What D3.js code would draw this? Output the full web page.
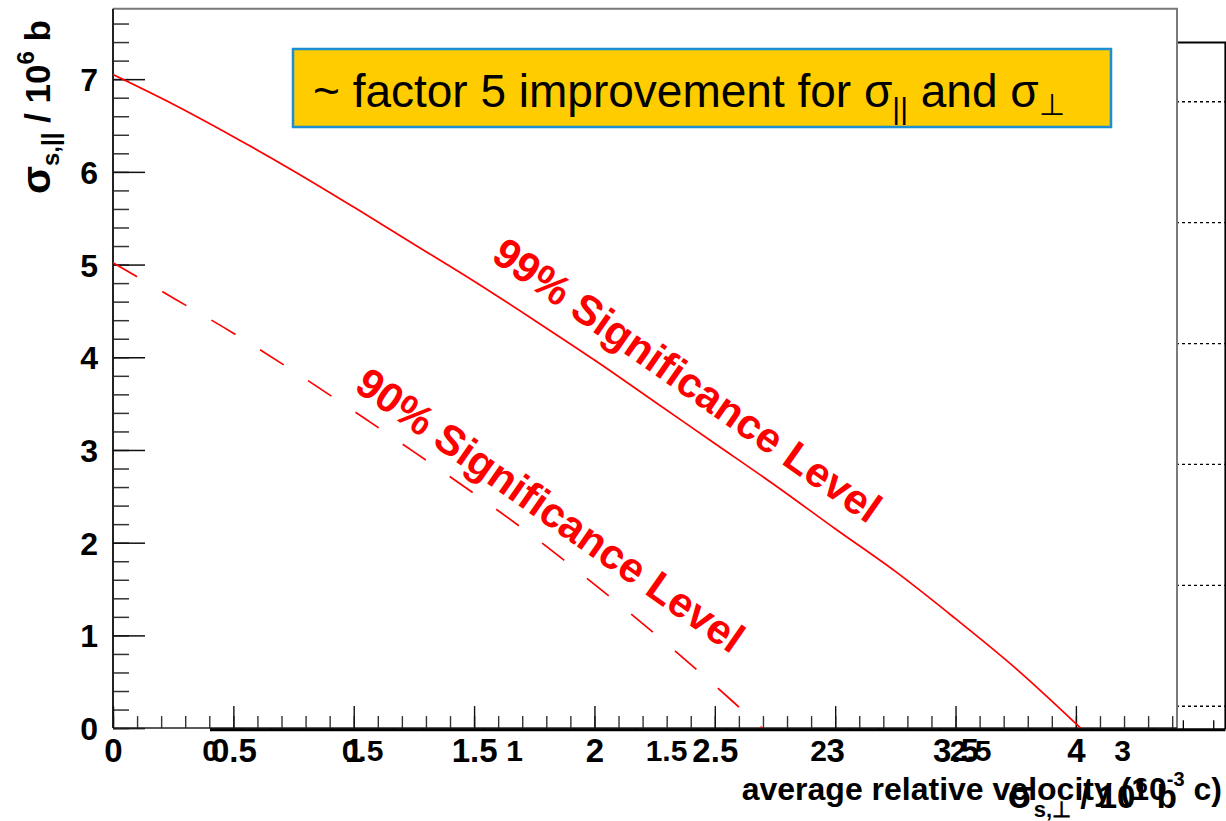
<!DOCTYPE html>
<html><head><meta charset="utf-8">
<script src="https://cdn.jsdelivr.net/npm/d3@7"></script>
<style>
body{margin:0;background:#fff}
text{font-family:"Liberation Sans",Arial,Helvetica,sans-serif}
</style>
</head><body>
<svg id="chart" width="1226" height="821"></svg>
<script>
// Exclusion limits: sigma_perp (10^6 b) vs sigma_parallel (10^6 b)
const perp99 = [0, 0.25, 0.5, 0.75, 1.0, 1.25, 1.5, 1.75, 2.0, 2.25, 2.5, 2.75, 3.0, 3.25, 3.5, 3.75, 4.02];
const par99  = [7.05, 6.73, 6.38, 6.01, 5.62, 5.22, 4.82, 4.40, 3.97, 3.52, 3.07, 2.62, 2.15, 1.69, 1.18, 0.645, 0.0];
const perp90 = [0, 0.25, 0.5, 0.75, 1.0, 1.25, 1.5, 1.75, 2.0, 2.25, 2.5, 2.697];
const par90  = [5.02, 4.64, 4.26, 3.85, 3.42, 2.98, 2.53, 2.06, 1.55, 1.02, 0.46, 0.0];

// Axis ticks
const parTicks = [0, 1, 2, 3, 4, 5, 6, 7];
const perpTicks = [0, 0.5, 1, 1.5, 2, 2.5, 3, 3.5, 4];
const velocityTicks = [0, 0.5, 1, 1.5, 2, 2.5, 3];
const velocityGrid = [1, 2, 3, 4, 5, 6];

const svg = d3.select("#chart");
const fmt = d3.format("~g");

// ---- geometry of the two frames
const A = {x0: 113, x1: 1177, y0: 728.1, y1: 8.7};
const B = {x0: 210, x1: 1225.4, y0: 729.2, y1: 42.5};

const xA = d3.scaleLinear().domain([0, 4.42]).range([A.x0, A.x1]);
const yA = d3.scaleLinear().domain([0, 7.76]).range([A.y0, A.y1]);
const xB = d3.scaleLinear().domain([0, 3.34]).range([B.x0, B.x1]);
const yB = d3.scaleLinear().domain([0.81, 6.49]).range([B.y0, B.y1]);

const steps = (a, b, s) => d3.range(Math.round(a / s), Math.round(b / s) + 1).map(i => +(i * s).toFixed(4));

// ---- velocity frame (behind)
const gB = svg.append("g");
gB.selectAll("line.grid").data(velocityGrid).join("line")
  .attr("x1", B.x0).attr("x2", B.x1)
  .attr("y1", d => yB(d)).attr("y2", d => yB(d))
  .attr("stroke", "#000").attr("stroke-width", 1.3).attr("stroke-dasharray", "3,3");
gB.append("path")
  .attr("d", `M${B.x0},${B.y1}H${B.x1}V${B.y0}`)
  .attr("fill", "none").attr("stroke", "#000").attr("stroke-width", 2);

const minorB = d3.axisBottom(xB).tickValues(steps(0, 3.3, 0.1)).tickSize(-9).tickFormat("").tickSizeOuter(0);
gB.append("g").attr("transform", `translate(0,${B.y0})`).call(minorB)
  .call(g => g.select(".domain").remove())
  .call(g => g.selectAll("line").attr("stroke", "#000").attr("stroke-width", 1.3));

// ---- main frame
const gA = svg.append("g");
gA.append("rect").attr("x", A.x0).attr("y", A.y1).attr("width", A.x1 - A.x0).attr("height", A.y0 - A.y1)
  .attr("fill", "#fff");
gA.append("path").attr("d", `M${A.x0},${A.y1}H${A.x1}V${A.y0}`)
  .attr("fill", "none").attr("stroke", "#7a7a7a").attr("stroke-width", 2);

// y axis (sigma parallel)
const yMinor = d3.axisLeft(yA).tickValues(steps(0, 7.6, 0.2)).tickSize(-16).tickFormat("").tickSizeOuter(0);
gA.append("g").attr("transform", `translate(${A.x0},0)`).call(yMinor)
  .call(g => g.select(".domain").remove())
  .call(g => g.selectAll("line").attr("stroke", "#333").attr("stroke-width", 1.5));
const yMajor = d3.axisLeft(yA).tickValues(parTicks).tickFormat(fmt).tickSize(-32).tickPadding(15).tickSizeOuter(0);
gA.append("g").attr("transform", `translate(${A.x0},0)`).call(yMajor)
  .call(g => g.select(".domain").attr("d", `M0,${A.y0}V${A.y1}`).attr("stroke", "#222").attr("stroke-width", 2))
  .call(g => g.selectAll("line").attr("stroke", "#111").attr("stroke-width", 1.5))
  .call(g => g.selectAll("text").attr("font-size", 32).attr("font-weight", "bold").attr("fill", "#000")
    .attr("font-family", "Liberation Sans, Arial, sans-serif").attr("dy", "0.36em"));

// x axis (sigma perpendicular)
const xMinor = d3.axisBottom(xA).tickValues(steps(0, 4.4, 0.1)).tickSize(-12).tickFormat("").tickSizeOuter(0);
gA.append("g").attr("transform", `translate(0,${A.y0})`).call(xMinor)
  .call(g => g.select(".domain").remove())
  .call(g => g.selectAll("line").attr("stroke", "#333").attr("stroke-width", 1.4));
const xMajor = d3.axisBottom(xA).tickValues(perpTicks).tickFormat(fmt).tickSize(-22).tickPadding(10).tickSizeOuter(0);
gA.append("g").attr("transform", `translate(0,${A.y0})`).call(xMajor)
  .call(g => g.select(".domain").attr("d", `M${A.x0},0H${A.x1}`).attr("stroke", "#222").attr("stroke-width", 1.5))
  .call(g => g.selectAll("line").attr("stroke", "#111").attr("stroke-width", 1.4))
  .call(g => g.selectAll("text").attr("font-size", 33).attr("font-weight", "bold").attr("fill", "#000")
    .attr("font-family", "Liberation Sans, Arial, sans-serif"));

// limit curves
svg.append("clipPath").attr("id", "clipA").append("rect")
  .attr("x", A.x0).attr("y", A.y1).attr("width", A.x1 - A.x0).attr("height", A.y0 - A.y1 + 1);
const line = d3.line().curve(d3.curveCatmullRom).x(d => xA(d[0])).y(d => yA(d[1]));
const curves = svg.append("g").attr("clip-path", "url(#clipA)");
curves.append("path").datum(d3.zip(perp99, par99)).attr("d", line)
  .attr("fill", "none").attr("stroke", "#ff0000").attr("stroke-width", 1.7);
curves.append("path").datum(d3.zip(perp90, par90)).attr("d", line)
  .attr("fill", "none").attr("stroke", "#ff0000").attr("stroke-width", 1.7).attr("stroke-dasharray", "28,29");

// velocity axis line and labels (drawn on top)
const xBAxis = d3.axisBottom(xB).tickValues(velocityTicks).tickFormat(fmt).tickSize(0).tickPadding(10).tickSizeOuter(0);
svg.append("g").attr("transform", `translate(0,${B.y0 + 0.5})`).call(xBAxis)
  .call(g => g.select(".domain").attr("d", `M${B.x0},0H${B.x1}`).attr("stroke", "#000").attr("stroke-width", 3))
  .call(g => g.selectAll("text").attr("font-size", 30).attr("font-weight", "bold").attr("fill", "#000")
    .attr("font-family", "Liberation Sans, Arial, sans-serif"));

// axis titles
const yTitle = svg.append("text").attr("transform", "translate(50,20) rotate(-90)")
  .attr("text-anchor", "end").attr("font-size", 35).attr("font-weight", "bold");
yTitle.append("tspan").attr("font-size", 41).text("σ");
yTitle.append("tspan").attr("font-size", 24).attr("dy", 9).text("s,||");
yTitle.append("tspan").attr("dy", -9).text(" / 10");
yTitle.append("tspan").attr("font-size", 24).attr("dy", -16).text("6");
yTitle.append("tspan").attr("dy", 16).text(" b");

const vTitle = svg.append("text").attr("x", 1222).attr("y", 800)
  .attr("text-anchor", "end").attr("font-size", 32).attr("font-weight", "bold");
vTitle.append("tspan").text("average relative velocity (10");
vTitle.append("tspan").attr("font-size", 20).attr("dy", -14).text("-3");
vTitle.append("tspan").attr("dy", 14).text(" c)");

const pTitle = svg.append("text").attr("x", 1177).attr("y", 808)
  .attr("text-anchor", "end").attr("font-size", 33).attr("font-weight", "bold");
pTitle.append("tspan").attr("font-size", 38).text("σ");
pTitle.append("tspan").attr("font-size", 22).attr("dy", 9).text("s,⊥");
pTitle.append("tspan").attr("dy", -9).text(" / 10");
pTitle.append("tspan").attr("font-size", 22).attr("dy", -15).text("6");
pTitle.append("tspan").attr("dy", 15).text(" b");

// annotation box
svg.append("rect").attr("x", 293).attr("y", 49).attr("width", 818).attr("height", 78)
  .attr("fill", "#ffcc00").attr("stroke", "#1b8fd2").attr("stroke-width", 2.5);
const note = svg.append("text").attr("x", 313).attr("y", 107).attr("font-size", 46).attr("fill", "#000");
note.append("tspan").text("~ factor 5 improvement for σ");
note.append("tspan").attr("font-size", 30).attr("dy", 12).text("||");
note.append("tspan").attr("dy", -12).text(" and σ");
note.append("tspan").attr("font-size", 30).attr("dy", 8).text("⊥");

// curve labels
svg.append("text").attr("transform", "translate(679,392) rotate(35)")
  .attr("text-anchor", "middle").attr("font-size", 42).attr("font-weight", "bold")
  .attr("fill", "#ff0000").text("99% Significance Level");
svg.append("text").attr("transform", "translate(542,522) rotate(35)")
  .attr("text-anchor", "middle").attr("font-size", 42).attr("font-weight", "bold")
  .attr("fill", "#ff0000").text("90% Significance Level");
</script>
</body></html>
